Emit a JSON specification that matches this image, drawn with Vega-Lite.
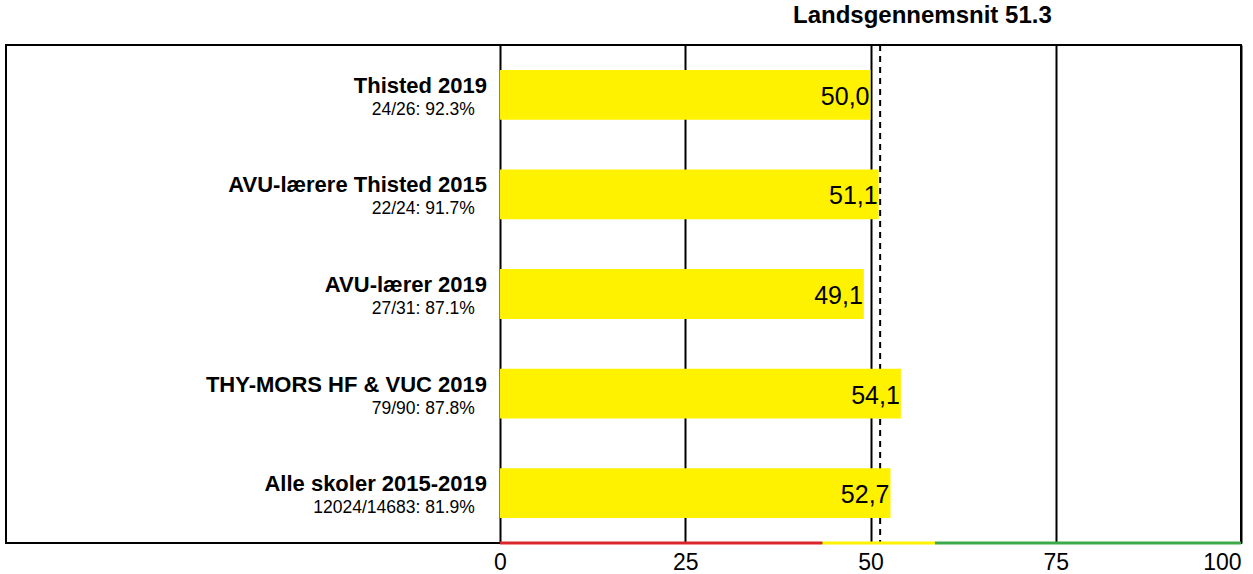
{
  "$schema": "https://vega.github.io/schema/vega-lite/v6.json",
  "width": 1235,
  "height": 498,
  "autosize": {"type": "none"},
  "padding": {"left": 6, "top": 45, "right": 12, "bottom": 31},
  "background": "white",
  "config": {
    "font": "Liberation Sans",
    "view": {"stroke": "black", "strokeWidth": 2}
  },
  "title": {
    "text": "Landsgennemsnit 51.3",
    "anchor": "start",
    "frame": "group",
    "dx": 787,
    "offset": -8,
    "baseline": "bottom",
    "fontSize": 24,
    "fontWeight": "bold",
    "color": "black",
    "font": "Liberation Sans"
  },
  "datasets": {
    "rows": [
      {"name": "Thisted 2019", "sub": "24/26: 92.3%", "value": 50.0, "label": "50,0"},
      {"name": "AVU-lærere Thisted 2015", "sub": "22/24: 91.7%", "value": 51.1, "label": "51,1"},
      {"name": "AVU-lærer 2019", "sub": "27/31: 87.1%", "value": 49.1, "label": "49,1"},
      {"name": "THY-MORS HF & VUC 2019", "sub": "79/90: 87.8%", "value": 54.1, "label": "54,1"},
      {"name": "Alle skoler 2015-2019", "sub": "12024/14683: 81.9%", "value": 52.7, "label": "52,7"}
    ],
    "zones": [
      {"start": 0, "end": 43.5, "zone": "low"},
      {"start": 43.5, "end": 58.7, "zone": "mid"},
      {"start": 58.7, "end": 100, "zone": "high"}
    ],
    "avg": [{"avg": 51.3}]
  },
  "layer": [
    {
      "data": {"name": "avg"},
      "mark": {"type": "rule", "color": "black", "strokeWidth": 2, "strokeDash": [6, 5]},
      "encoding": {
        "x": {
          "field": "avg", "type": "quantitative",
          "scale": {"domain": [-66.67, 100], "nice": false, "zero": false},
          "axis": {
            "values": [0, 25, 50, 75, 100],
            "title": null,
            "domain": false,
            "ticks": false,
            "grid": true,
            "gridColor": "black",
            "gridWidth": 2,
            "gridOpacity": 1,
            "labelFontSize": 23,
            "labelColor": "black",
            "labelPadding": 8,
            "labelFont": "Liberation Sans",
            "zindex": 0
          }
        }
      }
    },
    {
      "data": {"name": "rows"},
      "mark": {"type": "bar", "color": "#FFF200"},
      "encoding": {
        "y": {
          "field": "name", "type": "nominal", "sort": null,
          "scale": {"paddingInner": 0.5, "paddingOuter": 0.25},
          "axis": null
        },
        "x": {"field": "value", "type": "quantitative"}
      }
    },
    {
      "data": {"name": "rows"},
      "mark": {"type": "text", "align": "right", "baseline": "middle", "fontSize": 25, "dx": -1, "dy": 2, "color": "black"},
      "encoding": {
        "y": {"field": "name", "type": "nominal", "sort": null},
        "x": {"field": "value", "type": "quantitative"},
        "text": {"field": "label"}
      }
    },
    {
      "data": {"name": "rows"},
      "mark": {"type": "text", "align": "right", "baseline": "middle", "fontSize": 22, "fontWeight": "bold", "dy": -9, "color": "black"},
      "encoding": {
        "y": {"field": "name", "type": "nominal", "sort": null},
        "x": {"datum": -1.75},
        "text": {"field": "name"}
      }
    },
    {
      "data": {"name": "rows"},
      "mark": {"type": "text", "align": "right", "baseline": "middle", "fontSize": 17.5, "dy": 15, "color": "black"},
      "encoding": {
        "y": {"field": "name", "type": "nominal", "sort": null},
        "x": {"datum": -3.4},
        "text": {"field": "sub"}
      }
    },
    {
      "data": {"name": "zones"},
      "mark": {"type": "rule", "strokeWidth": 3},
      "encoding": {
        "x": {"field": "start", "type": "quantitative"},
        "x2": {"field": "end"},
        "y": {"value": "height"},
        "color": {
          "field": "zone", "type": "nominal",
          "scale": {"domain": ["low", "mid", "high"], "range": ["#D9262B", "#FFF200", "#3DAA49"]},
          "legend": null
        }
      }
    }
  ]
}
